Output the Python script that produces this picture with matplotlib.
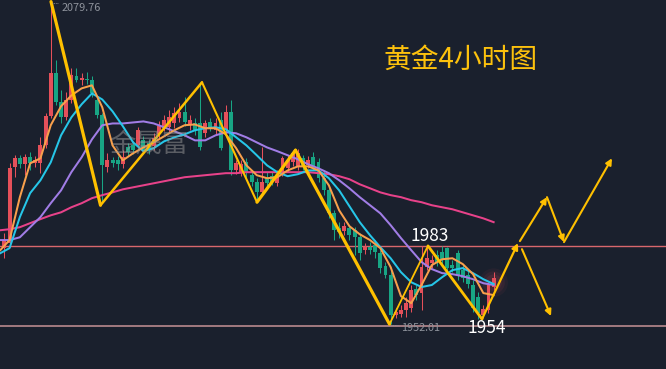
import matplotlib
matplotlib.use('Agg')
import matplotlib.pyplot as plt
from matplotlib.patches import FancyArrowPatch

# ---------------- data (prices) ----------------
opens = [1982.1, 1984.1, 2014.1, 2017.7, 2015.3, 2018.1, 2015.7, 2015.7, 2022.8, 2034.3,
         2051.3, 2039.8, 2033.9, 2040.6, 2050.1, 2048.6, 2049.3, 2048.9, 2040.6, 2034.7,
         2014.1, 2016.9, 2016.9, 2015.3, 2022.0, 2022.8, 2022.8, 2024.8, 2023.6, 2022.4,
         2027.2, 2029.6, 2030.0, 2031.5, 2033.5, 2035.9, 2030.8, 2031.5, 2031.5, 2027.6,
         2031.9, 2028.8, 2032.7, 2028.8, 2035.9, 2012.9, 2012.2, 2016.1, 2011.0, 2008.2,
         2004.2, 2009.8, 2010.6, 2007.8, 2011.8, 2013.7, 2016.1, 2014.1, 2017.7, 2014.9,
         2018.1, 2016.1, 2009.8, 2005.0, 1995.9, 1990.0, 1988.8, 1990.0, 1989.2, 1986.4,
         1981.3, 1982.5, 1983.3, 1980.1, 1975.0, 1971.4, 1955.6, 1956.0, 1957.6, 1958.4,
         1965.9, 1964.3, 1974.6, 1976.2, 1979.3, 1980.5, 1982.1, 1975.4, 1980.1, 1973.4,
         1971.4, 1967.5, 1962.7, 1955.6, 1957.6, 1966.7]
closes = [1985.3, 2013.7, 2017.7, 2015.3, 2018.1, 2015.7, 2016.9, 2022.8, 2034.3, 2051.3,
          2039.8, 2033.9, 2040.6, 2050.5, 2048.9, 2049.7, 2048.6, 2043.4, 2034.7, 2014.9,
          2016.9, 2015.7, 2015.3, 2018.1, 2020.1, 2020.9, 2028.8, 2020.9, 2020.9, 2025.6,
          2030.4, 2032.7, 2033.9, 2035.5, 2035.9, 2031.9, 2032.7, 2028.8, 2022.0, 2031.5,
          2030.0, 2031.5, 2021.7, 2035.9, 2012.9, 2015.7, 2015.3, 2012.2, 2008.2, 2004.2,
          2008.2, 2007.8, 2008.2, 2011.0, 2017.7, 2016.9, 2019.7, 2019.7, 2014.1, 2016.9,
          2014.1, 2009.8, 2005.0, 1995.9, 1989.2, 1988.4, 1990.8, 1987.2, 1986.4, 1980.1,
          1982.5, 1981.3, 1980.5, 1974.2, 1971.4, 1955.6, 1956.8, 1957.6, 1960.3, 1965.5,
          1963.5, 1974.6, 1978.1, 1977.3, 1976.5, 1977.3, 1974.2, 1974.2, 1971.4, 1970.2,
          1967.8, 1958.4, 1956.4, 1958.0, 1967.5, 1970.2]
highs = [1988.0, 2015.7, 2018.9, 2018.9, 2019.3, 2020.1, 2018.5, 2026.0, 2035.5, 2079.76,
         2056.5, 2044.6, 2043.8, 2053.3, 2053.3, 2051.3, 2051.7, 2050.1, 2041.4, 2035.5,
         2019.7, 2018.1, 2018.5, 2020.9, 2023.6, 2024.4, 2030.0, 2026.4, 2024.8, 2027.6,
         2032.3, 2034.7, 2036.7, 2037.9, 2039.5, 2041.8, 2034.7, 2033.5, 2047.8, 2032.7,
         2033.5, 2033.5, 2035.9, 2038.7, 2040.6, 2016.9, 2016.9, 2017.7, 2012.9, 2009.8,
         2022.0, 2012.2, 2012.2, 2012.9, 2018.5, 2018.9, 2020.9, 2021.3, 2018.9, 2018.5,
         2020.1, 2017.7, 2012.9, 2006.6, 1997.1, 1992.4, 1992.4, 1991.2, 1990.4, 1988.0,
         1984.1, 1984.5, 1985.3, 1981.3, 1976.5, 1974.6, 1958.3, 1959.5, 1962.7, 1967.5,
         1967.5, 1982.8, 1983.0, 1979.3, 1981.3, 1982.9, 1982.5, 1977.3, 1981.3, 1975.4,
         1973.4, 1969.4, 1964.7, 1959.5, 1968.6, 1972.6]
lows = [1978.1, 1982.5, 2010.2, 2013.7, 2011.0, 2012.9, 2014.1, 2011.8, 2021.7, 2033.5,
        2038.7, 2031.5, 2032.7, 2039.5, 2047.8, 2046.6, 2047.0, 2041.8, 2033.5, 2000.0,
        2012.2, 2014.1, 2012.9, 2013.7, 2018.5, 2019.3, 2021.6, 2019.7, 2019.3, 2020.9,
        2025.6, 2028.4, 2028.0, 2029.6, 2031.9, 2030.4, 2028.8, 2026.8, 2020.9, 2026.0,
        2028.4, 2027.2, 2020.9, 2027.6, 2011.0, 2011.4, 2010.6, 2009.8, 2006.6, 2000.3,
        2003.1, 2005.8, 2007.0, 2006.6, 2010.6, 2012.2, 2014.5, 2012.9, 2012.9, 2013.7,
        2012.9, 2008.2, 2003.1, 1993.9, 1985.3, 1986.0, 1987.2, 1985.3, 1979.3, 1977.3,
        1979.7, 1979.7, 1978.1, 1972.2, 1970.2, 1952.01, 1954.4, 1954.8, 1954.8, 1956.8,
        1961.5, 1957.6, 1973.4, 1974.2, 1975.0, 1975.4, 1972.6, 1972.6, 1969.4, 1968.6,
        1966.3, 1956.8, 1954.0, 1954.4, 1956.4, 1965.5]

ma_idx = [-0.8] + list(range(1, 96, 2))
ma_fast = [1981.3, 1985.3, 2002.3, 2015.7, 2017.7, 2030.8, 2038.3, 2042.6, 2045.4, 2046.6,
           2037.9, 2022.8, 2016.9, 2019.7, 2022.0, 2024.0, 2026.4, 2028.8, 2030.8, 2031.1,
           2029.6, 2029.6, 2027.2, 2021.7, 2014.9, 2011.0, 2009.8, 2010.2, 2012.9, 2014.5,
           2014.5, 2012.9, 2007.0, 1997.1, 1990.8, 1987.6, 1985.3, 1982.1, 1974.6, 1963.1,
           1960.3, 1967.5, 1975.4, 1977.7, 1978.1, 1975.8, 1971.8, 1964.3, 1963.5]
ma_mid = [1980.1, 1982.1, 1994.4, 2003.9, 2009.0, 2016.1, 2026.8, 2033.9, 2039.1, 2043.4,
          2041.0, 2036.3, 2030.4, 2024.0, 2020.5, 2021.7, 2024.4, 2026.0, 2027.2, 2028.8,
          2029.6, 2030.0, 2029.2, 2026.0, 2022.8, 2018.9, 2014.9, 2012.2, 2010.6, 2011.4,
          2012.9, 2012.9, 2009.8, 2005.0, 1998.7, 1992.4, 1987.2, 1982.5, 1978.1, 1972.6,
          1968.6, 1966.7, 1967.5, 1970.6, 1973.4, 1974.2, 1972.2, 1969.8, 1967.9]
ma_slow = [1985.3, 1985.3, 1986.4, 1990.4, 1994.4, 1999.9, 2005.0, 2012.2, 2018.1, 2025.2,
           2030.8, 2031.5, 2031.5, 2031.9, 2032.3, 2031.5, 2030.0, 2028.4, 2026.8, 2024.8,
           2024.8, 2026.8, 2028.0, 2027.6, 2026.0, 2024.0, 2022.0, 2020.5, 2018.9, 2017.3,
           2015.3, 2013.7, 2011.8, 2009.0, 2005.8, 2002.3, 1999.1, 1995.9, 1991.2, 1986.1,
           1981.3, 1976.6, 1973.8, 1972.2, 1971.8, 1971.0, 1969.8, 1968.2, 1967.5]
ma_long = [1989.2, 1989.6, 1990.4, 1992.0, 1993.6, 1995.1, 1996.3, 1998.3, 1999.9, 2001.9,
           2003.1, 2004.2, 2005.4, 2006.2, 2007.0, 2007.8, 2008.6, 2009.4, 2010.2, 2010.6,
           2011.0, 2011.4, 2011.8, 2011.8, 2012.2, 2012.2, 2012.2, 2012.2, 2012.2, 2012.2,
           2012.2, 2011.8, 2011.4, 2010.6, 2009.4, 2007.4, 2005.8, 2004.2, 2003.1, 2002.3,
           2001.1, 2000.3, 1999.1, 1998.3, 1997.5, 1996.3, 1995.1, 1993.9, 1992.4]

zig_idx = [9.05, 18.66, 38.37, 49.05, 56.52, 74.78, 82.25, 92.74, 99.73]
zig_price = [2079.76, 1999.1, 2047.8, 2000.3, 2020.9, 1952.01, 1983.0, 1954.0, 1984.1]
zig_width = [2.3, 1.8, 1.5, 2.3, 2.3, 1.3, 2.0, 1.6]
proj_up_idx = [100.1, 105.36, 108.66, 117.98]
proj_up_price = [1984.9, 2002.3, 1984.5, 2017.7]
proj_down_idx = [100.5, 106.14]
proj_down_price = [1981.7, 1955.2]

resistance = 1983.0
support = 1951.4
high_label = "2079.76"
low_label = "1952.01"

# ---------------- figure ----------------
bg = '#1a202d'
up_col = '#e5505a'
down_col = '#18a584'
zig_col = '#ffc000'

fig = plt.figure(figsize=(6.66, 3.69), dpi=100)
fig.patch.set_facecolor(bg)
ax = fig.add_axes([0, 0, 1, 1])
ax.set_facecolor(bg)
ax.set_xlim(-0.854, 128.47)
ax.set_ylim(1934.23, 2080.4)
ax.axis('off')

# horizontal levels
ax.axhline(resistance, color='#d8676c', lw=1.0, zorder=1)
ax.axhline(support, color='#b9898e', lw=1.2, zorder=1)

# candles
for i, (o, c, h, l) in enumerate(zip(opens, closes, highs, lows)):
    col = up_col if c >= o else down_col
    ax.plot([i, i], [l, h], color=col, lw=0.75, zorder=2, solid_capstyle='butt')
    ax.bar(i, max(abs(c - o), 0.45), bottom=min(o, c), width=0.76, color=col,
           edgecolor='none', zorder=2)

# glow on the last candle
last = len(opens) - 1
for s, a in [(420, 0.06), (260, 0.08), (140, 0.10)]:
    ax.scatter([last], [(opens[last] + closes[last]) / 2], s=s, color=up_col,
               alpha=a, edgecolors='none', zorder=2)

# moving averages
ax.plot(ma_idx, ma_long, color='#e8428a', lw=1.45, zorder=3)
ax.plot(ma_idx, ma_slow, color='#a17de6', lw=1.45, zorder=3)
ax.plot(ma_idx, ma_mid, color='#26c6e8', lw=1.45, zorder=3)
ax.plot(ma_idx, ma_fast, color='#f9a04c', lw=1.45, zorder=3)

# zigzag wave
for k in range(len(zig_idx) - 2):
    ax.plot(zig_idx[k:k + 2], zig_price[k:k + 2], color=zig_col, lw=zig_width[k],
            zorder=4, solid_capstyle='round')


def arrow(x0, y0, x1, y1, lw=1.6):
    ax.add_patch(FancyArrowPatch((x0, y0), (x1, y1), arrowstyle='-|>',
                                 mutation_scale=9, color=zig_col, lw=lw,
                                 shrinkA=0, shrinkB=0, zorder=4))


arrow(zig_idx[-2], zig_price[-2], zig_idx[-1], zig_price[-1], zig_width[-1])
for k in range(len(proj_up_idx) - 1):
    arrow(proj_up_idx[k], proj_up_price[k], proj_up_idx[k + 1], proj_up_price[k + 1], 1.5)
arrow(proj_down_idx[0], proj_down_price[0], proj_down_idx[1], proj_down_price[1], 1.5)

# texts
cjk = ['Noto Sans CJK SC', 'DejaVu Sans']
fig.text(0.576, 0.837, '黄金4小时图', color='#fcc10d', fontsize=20, family=cjk,
         ha='left', va='center')
fig.text(0.6456, 0.360, '1983', color='white', fontsize=12.5, family=cjk,
         ha='center', va='center')
fig.text(0.7312, 0.111, '1954', color='white', fontsize=12.5, family=cjk,
         ha='center', va='center')
fig.text(0.092, 0.979, high_label, color='#8e939c', fontsize=7.8, family=cjk,
         ha='left', va='center')
fig.text(0.602, 0.110, low_label, color='#8e939c', fontsize=7.8, family=cjk,
         ha='left', va='center')
ax.plot([9.3, 10.4], [2079.4, 2079.4], color='#8e939c', lw=0.6, ls=(0, (1, 1)), zorder=4)
ax.plot([75.0, 76.4], [1951.8, 1951.8], color='#8e939c', lw=0.6, ls=(0, (1, 1)), zorder=4)
fig.text(0.223, 0.61, '金晟富', color='#9a9a9a', alpha=0.5, fontsize=19, family=cjk,
         ha='center', va='center', zorder=5)

fig.savefig('out.png', dpi=100, facecolor=bg)
